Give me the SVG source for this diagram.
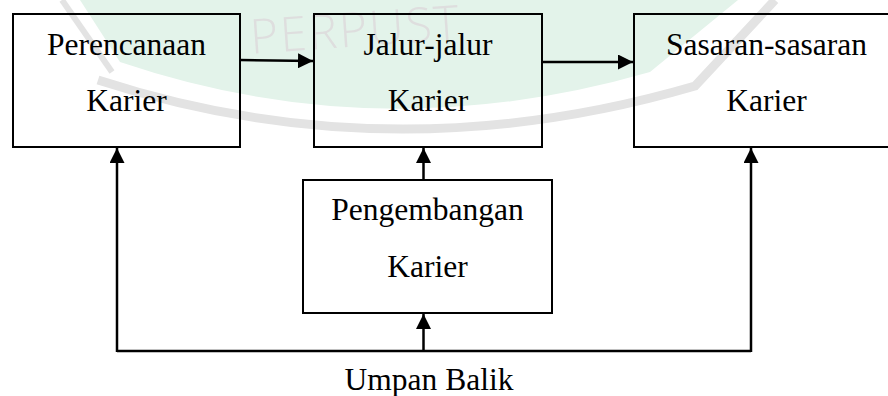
<svg xmlns="http://www.w3.org/2000/svg" width="888" height="396" viewBox="0 0 888 396">
  <defs>
    <style>
      .box { fill: none; stroke: #000; stroke-width: 2; }
      .lbl { font-family: 'Liberation Serif', 'Times New Roman', serif; font-size: 31.5px; fill: #000; text-anchor: middle; }
      .wire { fill: none; stroke: #000; stroke-width: 2.5; }
      .wm { fill: none; stroke: #e3e3e3; }
    </style>
    <marker id="ah" viewBox="0 0 10 10" refX="10" refY="5" markerWidth="6" markerHeight="6" markerUnits="strokeWidth" orient="auto">
      <path d="M0,0 L10,5 L0,10 Z" fill="#000"/>
    </marker>
  </defs>
  <rect width="888" height="396" fill="#fff"/>
  <g id="watermark">
    <path d="M80,0 L120,62 Q380,150 650,72 L738,0 Z" fill="#e3f3ea"/>
    <path class="wm" stroke-width="9" d="M98,80 Q390,175 695,86 L775,0"/>
    <path class="wm" stroke-width="6" d="M62,0 L112,72"/>
    <text x="250" y="44" transform="rotate(-4 390 30)" font-family="'Open Sans', sans-serif" font-weight="300" font-size="48" fill="#dedede" letter-spacing="2">PERPUST</text>
  </g>
  <g id="perencanaan">
    <rect class="box" x="13" y="14" width="227" height="133"/>
    <text class="lbl" x="126.5" y="54.5">Perencanaan</text>
    <text class="lbl" x="126.5" y="111">Karier</text>
  </g>
  <g id="jalur">
    <rect class="box" x="314" y="14" width="228" height="133"/>
    <text class="lbl" x="428" y="54.5">Jalur-jalur</text>
    <text class="lbl" x="428" y="111">Karier</text>
  </g>
  <g id="sasaran">
    <rect class="box" x="634" y="14" width="266" height="133"/>
    <text class="lbl" x="766.5" y="54.5">Sasaran-sasaran</text>
    <text class="lbl" x="766.5" y="111">Karier</text>
  </g>
  <g id="pengembangan">
    <rect class="box" x="303" y="180" width="249" height="133"/>
    <text class="lbl" x="427.5" y="220">Pengembangan</text>
    <text class="lbl" x="427.5" y="277">Karier</text>
  </g>
  <g id="umpan-balik">
    <text class="lbl" x="429" y="390">Umpan Balik</text>
  </g>
  <g id="connectors">
    <line class="wire" x1="240" y1="60" x2="313" y2="61" marker-end="url(#ah)"/>
    <line class="wire" x1="542" y1="62" x2="633" y2="62" marker-end="url(#ah)"/>
    <line class="wire" x1="423.5" y1="180" x2="423.5" y2="148" marker-end="url(#ah)"/>
    <line class="wire" x1="423.5" y1="351" x2="423.5" y2="314" marker-end="url(#ah)"/>
    <path class="wire" d="M117,351 L751,351"/>
    <line class="wire" x1="117" y1="352" x2="117" y2="148" marker-end="url(#ah)"/>
    <line class="wire" x1="751" y1="352" x2="751" y2="148" marker-end="url(#ah)"/>
  </g>
</svg>
